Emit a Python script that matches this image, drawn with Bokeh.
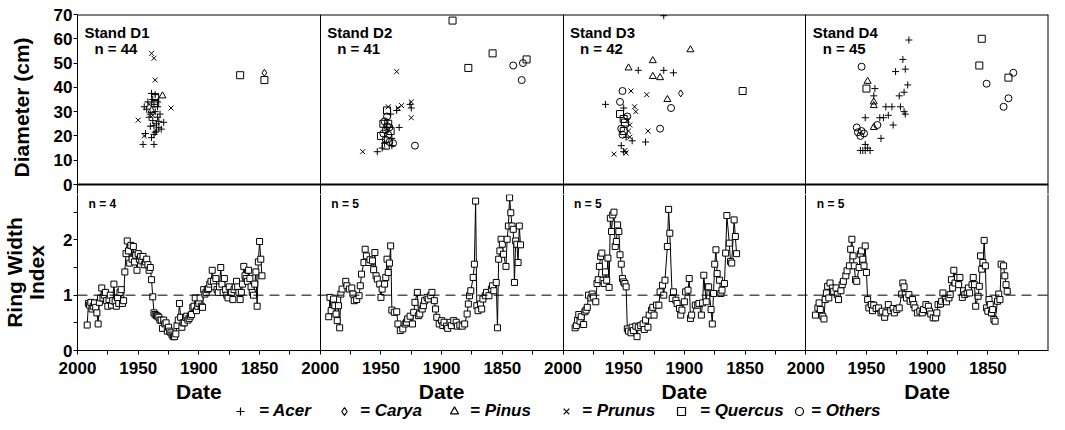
from bokeh.plotting import figure
from bokeh.models import Range1d, FixedTicker, Span, Label, Legend, LegendItem, ColumnDataSource
from bokeh.layouts import column
from bokeh.transform import factor_mark
from bokeh.core.properties import value
from bokeh.embed import file_html
from bokeh.resources import INLINE

FONT = "Liberation Sans"

# ---------------------------------------------------------------- categories
SPECIES = ["Acer", "Carya", "Pinus", "Prunus", "Quercus", "Others"]
MARKERS = ["cross", "diamond", "triangle", "x", "square", "circle"]
LEGEND_TEXT = ["= Acer", "= Carya", "= Pinus", "= Prunus", "= Quercus", "= Others"]
A, C, PI, PR, Q, O = SPECIES

STANDS = ["Stand  D1", "Stand  D2", "Stand  D3", "Stand  D4"]
STAND_N = [44, 41, 42, 45]
RING_N = [4, 5, 5, 5]

X_TICK_LABELS = ["2000", "1950", "1900", "1850"]
DIAM_TICKS = [0, 10, 20, 30, 40, 50, 60, 70]
DIAM_TOP = 70
RING_TICKS = [0, 1, 2]
RING_MINOR = [0.5, 1.5, 2.5]
RING_TOP = 3

# ---------------------------------------------------------------- tree data (date, diameter, species)
d1_year = [1866, 1846, 1846, 1939, 1937, 1936, 1939, 1936, 1936, 1930, 1942, 1934, 1937, 1945, 1939,
           1934, 1923, 1950, 1941, 1934, 1938, 1929, 1937, 1933, 1935, 1931, 1937, 1945, 1939, 1946,
           1937, 1940, 1943, 1936, 1938, 1935, 1940, 1932, 1936, 1944, 1938, 1933, 1941, 1936]
d1_diam = [45, 46, 43, 54, 52, 43, 37.5, 36, 37, 36.5, 34, 34, 33, 32, 30.5,
           32, 31.5, 26.5, 27.7, 27.7, 26.3, 25.6, 24.2, 23.4, 22, 22.8, 20.6, 20, 19.3, 16.5,
           16.5, 29, 31, 30, 28.5, 25, 24, 29, 33.5, 21, 35, 26, 33, 21.5]
d1_sp = [Q, C, Q, PR, PR, PR, A, Q, A, PI, A, A, A, A, PI,
         A, PR, PR, A, A, A, A, A, A, A, A, A, PR, A, A,
         A, A, A, A, PR, A, A, A, Q, A, A, A, PR, A]

d2_year = [1891, 1858, 1878, 1841, 1833, 1830, 1834, 1937, 1945, 1944, 1947, 1943, 1950, 1944, 1943,
           1946, 1941, 1949, 1953, 1965, 1935, 1937, 1933, 1925, 1925, 1925, 1922, 1945, 1942, 1946,
           1944, 1948, 1941, 1947, 1936, 1942, 1945, 1948, 1940, 1946, 1926]
d2_diam = [67.5, 54, 48, 49, 50, 51.5, 43, 46.5, 30.5, 32, 26, 23.5, 20, 20.5, 17.5,
           16, 16, 15, 13.5, 13.5, 23.5, 30.5, 32.5, 34, 31.5, 27.5, 16, 28, 22, 18.5,
           25, 21, 19, 17, 31.5, 29, 24, 25, 17, 22.5, 33]
d2_sp = [Q, Q, Q, O, O, Q, O, PR, Q, PR, O, O, Q, O, O,
         Q, A, A, A, PR, A, A, PR, PR, A, PR, O, O, Q, O,
         Q, O, A, A, PR, A, O, Q, O, O, A]

d3_year = [1917, 1895, 1926, 1946, 1938, 1926, 1920, 1917, 1909, 1951, 1944, 1931, 1903, 1852, 1965,
           1953, 1950, 1941, 1940, 1914, 1911, 1953, 1950, 1947, 1945, 1952, 1950, 1948, 1945, 1952,
           1930, 1920, 1932, 1958, 1948, 1950, 1949, 1946, 1951, 1947, 1943, 1949]
d3_diam = [69.5, 55.5, 51, 48, 47, 44.5, 44, 47, 46, 38.5, 38.5, 37, 37.5, 38.5, 33,
           34, 31.5, 32, 30, 35, 31.5, 29, 27, 26.5, 24.5, 23, 22, 19.5, 19.5, 16,
           22, 23, 17.5, 12.5, 13, 13.5, 25.5, 22, 20.5, 28, 18, 14]
d3_sp = [A, PI, PI, PI, A, PI, PI, A, A, O, PR, PR, C, Q, A,
         O, A, PR, PR, PI, O, Q, Q, PR, PR, O, Q, A, PR, A,
         PR, O, A, PR, PR, A, Q, PR, O, O, A, PR]

d4_year = [1915, 1855, 1920, 1954, 1926, 1918, 1857, 1833, 1829, 1851, 1949, 1950, 1943, 1916, 1923,
           1919, 1944, 1944, 1934, 1929, 1922, 1919, 1833, 1837, 1951, 1939, 1936, 1932, 1928, 1958,
           1954, 1955, 1944, 1941, 1938, 1951, 1951, 1955, 1947, 1952, 1944, 1957, 1949, 1953, 1918]
d4_diam = [59.5, 60, 51.5, 48.5, 46.5, 47.5, 49, 44, 46, 41.5, 42.5, 39.5, 39.5, 41, 36.5,
           38, 34, 36.5, 32, 32, 32, 30, 35.5, 32, 27.5, 27.5, 27.5, 28.5, 24.5, 23.5,
           22, 20, 23.5, 24.5, 19, 16.5, 14, 14, 14, 21, 32.5, 21.5, 15, 14, 29]
d4_sp = [A, Q, A, O, A, A, Q, Q, O, O, PI, Q, A, A, A,
         A, PI, A, A, A, A, A, O, O, A, A, A, A, A, O,
         O, O, PI, O, A, A, A, A, A, O, PI, O, A, A, A]

# ---------------------------------------------------------------- ring width index series
r1_first_year = 1992
r1_vals = [0.46, 0.85, 0.82, 0.87, 0.75, 0.80, 0.86, 0.78, 0.68, 0.48,
           0.87, 0.95, 1.13, 0.95, 1.00, 1.05, 0.90, 0.80, 0.92, 1.00,
           0.82, 0.90, 1.20, 0.88, 0.80, 0.95, 0.85, 1.05, 1.10, 0.85,
           0.90, 1.42, 1.75, 1.98, 1.80, 1.58, 1.90, 1.65, 1.88, 1.60,
           1.72, 1.45, 1.75, 1.65, 1.70, 1.62, 1.70, 1.55, 1.60, 1.65,
           1.55, 1.45, 1.50, 1.28, 0.97, 0.68, 0.65, 0.63, 0.62, 0.60,
           0.55, 0.55, 0.40, 0.55, 0.48, 0.50, 0.35, 0.42, 0.35, 0.32,
           0.28, 0.25, 0.25, 0.30, 0.45, 0.55, 0.85, 0.60, 0.42, 0.50,
           0.50, 0.60, 0.62, 0.55, 0.58, 0.62, 0.65, 0.78, 0.80, 0.95,
           0.72, 0.80, 0.85, 0.95, 0.80, 0.78, 1.10, 1.02, 1.05, 1.10,
           1.12, 1.20, 1.25, 1.45, 1.25, 1.15, 1.30, 1.10, 1.05, 1.15,
           1.50, 1.20, 1.05, 1.30, 1.10, 1.00, 0.95, 1.15, 1.05, 1.05,
           0.92, 1.10, 1.15, 1.25, 1.15, 1.05, 0.92, 1.05, 1.20, 1.52,
           1.35, 1.30, 1.25, 1.45, 1.30, 1.15, 1.05, 1.00, 1.20, 1.42,
           0.80, 1.60, 1.97, 1.65, 1.35]
r1_years = [r1_first_year - i for i in range(len(r1_vals))]

r2_years = [1993, 1992, 1991, 1989, 1988, 1987, 1986, 1985, 1984, 1983,
            1982, 1979, 1978, 1976, 1974, 1973, 1972, 1970, 1968, 1967,
            1966, 1964, 1963, 1962, 1960, 1959, 1957, 1956, 1955, 1954,
            1953, 1951, 1950, 1949, 1947, 1946, 1945, 1944, 1943, 1942,
            1941, 1939, 1937, 1936, 1934, 1932, 1930, 1929, 1928, 1926,
            1924, 1923, 1922, 1920, 1919, 1918, 1916, 1915, 1914, 1912,
            1911, 1909, 1908, 1906, 1905, 1904, 1902, 1900, 1899, 1898,
            1896, 1895, 1893, 1892, 1890, 1888, 1887, 1885, 1883, 1881,
            1879, 1878, 1877, 1876, 1874, 1873, 1872, 1871, 1870, 1868,
            1867, 1866, 1864, 1863, 1861, 1859, 1858, 1857, 1855, 1854,
            1853, 1852, 1851, 1850, 1849, 1847, 1846, 1845, 1844, 1843,
            1842, 1841, 1840, 1839, 1838, 1837, 1836, 1835]
r2_vals = [0.61, 0.96, 0.72, 0.93, 0.81, 0.66, 0.54, 0.81, 0.41, 1.02,
           1.11, 1.25, 1.17, 1.11, 1.13, 1.02, 0.90, 0.92, 0.99, 1.17,
           1.38, 1.59, 1.83, 1.71, 1.59, 1.64, 1.62, 1.46, 1.77, 1.35,
           1.29, 1.20, 0.96, 1.11, 1.20, 1.32, 1.65, 1.41, 1.58, 1.89,
           0.73, 0.69, 0.70, 0.48, 0.36, 0.39, 0.48, 0.51, 0.57, 0.62,
           0.48, 0.69, 0.87, 1.05, 0.63, 0.66, 0.75, 0.81, 0.90, 0.96,
           0.93, 0.99, 1.05, 0.90, 0.75, 0.60, 0.48, 0.54, 0.45, 0.51,
           0.44, 0.40, 0.51, 0.45, 0.54, 0.51, 0.44, 0.46, 0.44, 0.48,
           0.66, 0.84, 0.99, 1.08, 1.32, 1.56, 2.70, 0.81, 0.72, 0.84,
           0.75, 0.93, 0.99, 1.05, 0.99, 1.11, 1.17, 1.08, 1.23, 0.41,
           1.65, 1.80, 2.01, 1.92, 1.74, 1.52, 2.01, 2.25, 2.76, 2.49,
           2.25, 2.19, 1.23, 1.98, 1.92, 1.59, 2.25, 1.91]

r3_years = [1990, 1989, 1988, 1987, 1986, 1985, 1983, 1982, 1981, 1980,
            1979, 1977, 1976, 1975, 1973, 1972, 1971, 1970, 1969, 1968,
            1967, 1966, 1965, 1964, 1963, 1962, 1961, 1960, 1959, 1958,
            1957, 1956, 1955, 1954, 1953, 1952, 1951, 1950, 1949, 1948,
            1947, 1946, 1944, 1943, 1942, 1940, 1939, 1938, 1936, 1934,
            1933, 1932, 1930, 1929, 1927, 1926, 1925, 1923, 1921, 1920,
            1918, 1917, 1916, 1914, 1913, 1912, 1910, 1909, 1907, 1906,
            1904, 1903, 1902, 1900, 1899, 1897, 1896, 1895, 1894, 1891,
            1889, 1888, 1886, 1885, 1884, 1882, 1881, 1880, 1878, 1877,
            1876, 1875, 1874, 1873, 1871, 1870, 1869, 1867, 1866, 1865,
            1863, 1862, 1861, 1859, 1858, 1857]
r3_vals = [0.41, 0.45, 0.55, 0.65, 0.53, 0.61, 0.47, 0.70, 0.73, 0.78,
           1.00, 0.95, 1.02, 0.97, 0.88, 1.21, 1.28, 1.52, 1.70, 1.76,
           1.27, 1.21, 1.42, 1.27, 1.67, 1.14, 2.39, 2.15, 2.45, 2.50,
           1.88, 1.97, 2.27, 2.15, 1.73, 1.56, 1.30, 1.24, 1.21, 1.15,
           0.39, 0.35, 0.32, 0.42, 0.36, 0.44, 0.25, 0.42, 0.45, 0.48,
           0.38, 0.55, 0.42, 0.64, 0.73, 0.78, 0.64, 0.82, 0.82, 1.06,
           1.18, 1.00, 1.27, 1.88, 2.55, 2.12, 0.94, 1.06, 0.91, 0.85,
           0.76, 0.64, 0.73, 0.88, 1.06, 1.09, 1.30, 0.58, 0.64, 0.82,
           0.82, 0.85, 0.64, 0.86, 1.36, 0.88, 1.15, 1.15, 0.74, 0.48,
           1.03, 1.56, 1.82, 1.39, 1.27, 1.03, 1.09, 1.21, 1.76, 2.44,
           1.94, 1.61, 1.58, 2.36, 2.06, 1.75]

r4_years = [1992, 1990, 1989, 1988, 1986, 1985, 1984, 1983, 1982, 1981,
            1980, 1978, 1977, 1975, 1974, 1973, 1971, 1970, 1969, 1967,
            1966, 1964, 1963, 1962, 1961, 1960, 1959, 1958, 1956, 1955,
            1954, 1953, 1952, 1951, 1950, 1949, 1948, 1946, 1945, 1944,
            1942, 1940, 1938, 1937, 1935, 1934, 1932, 1930, 1928, 1927,
            1925, 1923, 1921, 1920, 1919, 1918, 1917, 1915, 1914, 1912,
            1911, 1910, 1908, 1906, 1904, 1903, 1901, 1899, 1898, 1897,
            1895, 1893, 1892, 1891, 1889, 1888, 1887, 1885, 1884, 1882,
            1881, 1880, 1879, 1878, 1877, 1875, 1874, 1873, 1871, 1870,
            1869, 1867, 1866, 1865, 1863, 1862, 1861, 1860, 1858, 1857,
            1856, 1855, 1854, 1853, 1852, 1851, 1850, 1849, 1848, 1847,
            1846, 1845, 1844, 1842, 1841, 1840, 1839, 1837, 1836, 1835,
            1834]
r4_vals = [0.64, 0.77, 0.86, 0.74, 0.62, 0.57, 0.92, 1.04, 1.16, 0.95,
           1.22, 1.13, 1.07, 1.13, 1.01, 0.92, 1.08, 1.19, 1.25, 1.35,
           1.44, 1.53, 1.83, 2.01, 1.71, 1.53, 1.28, 1.25, 1.50, 1.74,
           1.80, 1.65, 1.53, 1.89, 1.41, 0.92, 0.77, 0.83, 0.72, 0.82,
           0.76, 0.77, 0.68, 0.71, 0.60, 0.68, 0.83, 0.72, 0.76, 0.68,
           0.74, 0.77, 1.02, 1.22, 1.15, 1.01, 0.95, 1.01, 0.89, 0.92,
           0.83, 0.77, 0.68, 0.71, 0.68, 0.74, 0.83, 0.80, 0.71, 0.66,
           0.59, 0.59, 0.68, 0.83, 0.84, 0.89, 1.04, 0.92, 0.88, 0.95,
           1.01, 1.28, 1.13, 1.45, 1.22, 1.32, 1.19, 1.32, 0.96, 1.08,
           1.01, 1.04, 1.13, 1.04, 1.19, 1.32, 1.19, 0.80, 0.98, 1.16,
           1.71, 1.47, 1.59, 1.99, 1.53, 0.77, 0.71, 0.92, 0.83, 0.68,
           0.74, 0.56, 0.53, 0.89, 1.02, 0.92, 1.56, 1.53, 1.35, 1.19,
           1.07]

TREES = [(d1_year, d1_diam, d1_sp), (d2_year, d2_diam, d2_sp),
         (d3_year, d3_diam, d3_sp), (d4_year, d4_diam, d4_sp)]
RINGS = [(r1_years, r1_vals), (r2_years, r2_vals), (r3_years, r3_vals), (r4_years, r4_vals)]

# ---------------------------------------------------------------- layout geometry
# One figure per row; every panel has its own x range so that it spans 2000 -> 1800
# in its own quarter of the row.  The upper figure reaches EXT px below its 0 line so
# that the "0" tick label on the row boundary is not cut by the canvas edge.
N_PANELS = 4
X_LEFT = 2000
PANEL_YEARS = 200
W = 1049
LEFT = 72
TOP_FRAME = 170      # px for 0..70 cm
BOT_FRAME = 166      # px for 0..3 index
EXT = 10             # px of the upper figure that lie below the row boundary
X_END = X_LEFT - PANEL_YEARS * N_PANELS


def panel_range(k):
    return Range1d(X_LEFT + PANEL_YEARS * k, X_LEFT - PANEL_YEARS * (N_PANELS - k))


def range_name(k):
    return "default" if k == 0 else "p%d" % k


major_x = [X_LEFT - PANEL_YEARS * k - 50 * j for k in range(N_PANELS) for j in range(4)]
minor_x = [X_LEFT - PANEL_YEARS * k - 25 - 50 * j for k in range(N_PANELS) for j in range(4)]
x_overrides = {X_LEFT - PANEL_YEARS * k - 50 * j: X_TICK_LABELS[j]
               for k in range(N_PANELS) for j in range(4)}
boundaries = [X_LEFT - PANEL_YEARS * k for k in range(1, N_PANELS)]


def style(p):
    p.outline_line_color = None
    p.background_fill_color = "white"
    p.border_fill_color = "white"
    p.xgrid.ticker = FixedTicker(ticks=boundaries)
    p.xgrid.grid_line_color = "black"
    p.xgrid.grid_line_width = 1
    p.ygrid.grid_line_color = None
    p.extra_x_ranges = {range_name(k): panel_range(k) for k in range(1, N_PANELS)}
    # right edge of the last panel
    p.add_layout(Span(location=X_END, dimension="height", line_color="black", line_width=2))
    for ax in p.axis:
        ax.axis_line_color = "black"
        ax.major_tick_line_color = "black"
        ax.minor_tick_line_color = "black"
        ax.major_label_text_font = FONT
        ax.major_label_text_font_style = "bold"
        ax.major_label_text_font_size = "17px"
        ax.major_label_text_color = "black"
        ax.axis_label_text_font = FONT
        ax.axis_label_text_font_style = "bold"
        ax.axis_label_text_font_size = "21px"
        ax.axis_label_text_color = "black"


# ---------------------------------------------------------------- top row: diameters
p_top = figure(width=W, height=14 + TOP_FRAME + EXT, x_range=panel_range(0),
               y_range=Range1d(-EXT * DIAM_TOP / TOP_FRAME, DIAM_TOP),
               output_backend="svg", toolbar_location=None,
               min_border_left=LEFT, min_border_right=1, min_border_top=14, min_border_bottom=0)
style(p_top)
p_top.xaxis.visible = False
p_top.add_layout(Span(location=DIAM_TOP, dimension="width", line_color="black", line_width=2))
p_top.add_layout(Span(location=0, dimension="width", line_color="black", line_width=2))
p_top.yaxis.ticker = FixedTicker(ticks=DIAM_TICKS, minor_ticks=[])
p_top.yaxis.major_tick_out = 4
p_top.yaxis.major_tick_in = 0
p_top.yaxis.major_label_standoff = 1
p_top.yaxis.axis_label = "Diameter  (cm)"
p_top.yaxis.axis_label_standoff = 18

for k, (yrs, dia, sp) in enumerate(TREES):
    src = ColumnDataSource(dict(year=yrs, diam=dia, species=sp))
    p_top.scatter("year", "diam", source=src, x_range_name=range_name(k),
                  marker=factor_mark("species", MARKERS, SPECIES),
                  size=7, line_color="black", line_width=1, fill_color=None)
    p_top.add_layout(Label(x=X_LEFT - PANEL_YEARS * k, y=DIAM_TOP, x_offset=7, y_offset=-9,
                           text=STANDS[k], text_baseline="top", text_font=FONT,
                           text_font_style="bold", text_font_size="15px", text_color="black"))
    p_top.add_layout(Label(x=X_LEFT - PANEL_YEARS * k, y=DIAM_TOP, x_offset=17, y_offset=-25,
                           text="n = %d" % STAND_N[k], text_baseline="top", text_font=FONT,
                           text_font_style="bold", text_font_size="15px", text_color="black"))

# ---------------------------------------------------------------- bottom row: ring width index
p_bot = figure(width=W, height=BOT_FRAME - EXT + 31, x_range=panel_range(0),
               y_range=Range1d(0, RING_TOP - EXT * RING_TOP / BOT_FRAME),
               output_backend="svg", toolbar_location=None,
               min_border_left=LEFT, min_border_right=1, min_border_top=0, min_border_bottom=31)
style(p_bot)
p_bot.yaxis.ticker = FixedTicker(ticks=RING_TICKS, minor_ticks=RING_MINOR)
p_bot.yaxis.major_tick_out = 4
p_bot.yaxis.major_tick_in = 0
p_bot.yaxis.minor_tick_out = 4
p_bot.yaxis.minor_tick_in = 0
p_bot.yaxis.major_label_standoff = 1
p_bot.yaxis.axis_label = "Ring Width\nIndex"
p_bot.yaxis.axis_label_text_line_height = 0.95
p_bot.yaxis.axis_label_standoff = 12
p_bot.xaxis.ticker = FixedTicker(ticks=major_x, minor_ticks=minor_x)
p_bot.xaxis.major_tick_out = 4
p_bot.xaxis.major_tick_in = 0
p_bot.xaxis.minor_tick_out = 4
p_bot.xaxis.minor_tick_in = 0
p_bot.xaxis.major_label_standoff = 7
p_bot.xaxis.major_label_overrides = x_overrides

p_bot.add_layout(Span(location=1, dimension="width", line_color="black",
                      line_width=1, line_dash="10 6"))

for k, (yrs, vals) in enumerate(RINGS):
    rn = range_name(k)
    p_bot.line(yrs, vals, x_range_name=rn, line_color="black", line_width=1)
    p_bot.scatter(yrs, vals, x_range_name=rn, marker="square", size=6,
                  fill_color="white", line_color="black", line_width=1)
    p_bot.add_layout(Label(x=X_LEFT - PANEL_YEARS * k, y=RING_TOP, x_offset=11, y_offset=-12,
                           text="n = %d" % RING_N[k], text_baseline="top", text_font=FONT,
                           text_font_style="bold", text_font_size="12px", text_color="black"))

# ---------------------------------------------------------------- strip below: "Date" titles and key
KEY_H = 41
p_key = figure(width=W, height=KEY_H, x_range=panel_range(0), y_range=Range1d(0, KEY_H),
               x_axis_type=None, y_axis_type=None, output_backend="svg", toolbar_location=None,
               min_border_left=LEFT, min_border_right=1, min_border_top=0, min_border_bottom=0)
p_key.outline_line_color = None
p_key.grid.visible = False
p_key.background_fill_color = "white"
p_key.border_fill_color = "white"

for k in range(N_PANELS):
    p_key.add_layout(Label(x=X_LEFT - PANEL_YEARS * k - PANEL_YEARS / 2, y=KEY_H - 10,
                           text="Date", text_align="center", text_baseline="middle",
                           text_font=FONT, text_font_style="bold", text_font_size="21px",
                           text_color="black"))

LEG_X = [152, 256, 366, 478, 593, 711]
LEG_STANDOFF = [8, 5, 5, 5, 8, 1]
for i, name in enumerate(SPECIES):
    # legend proxy: a single point placed below the strip's visible range (never shown)
    r = p_key.scatter(x=[X_LEFT], y=[-KEY_H], marker=MARKERS[i], size=9, line_color="black",
                      line_width=1.2, fill_color=None)
    leg = Legend(items=[LegendItem(label=value(LEGEND_TEXT[i]), renderers=[r])],
                 location=(LEG_X[i], 1), orientation="horizontal",
                 glyph_width=22, glyph_height=20, label_standoff=LEG_STANDOFF[i],
                 label_height=20, padding=0, margin=0, spacing=0,
                 border_line_color=None, background_fill_alpha=0,
                 label_text_font=FONT, label_text_font_style="bold italic",
                 label_text_font_size="17px", label_text_color="black")
    p_key.add_layout(leg)

layout = column(p_top, p_bot, p_key, spacing=0)
open("out.html", "w").write(file_html(layout, INLINE))
